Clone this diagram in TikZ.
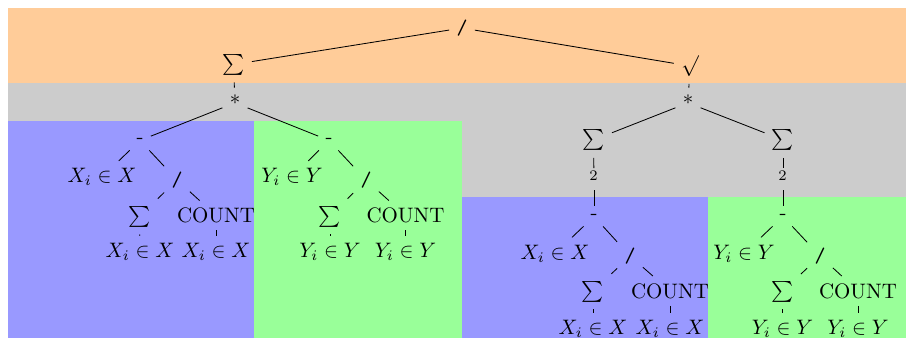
\documentclass[tikz,border=0pt]{standalone}
\definecolor{bandorange}{RGB}{255,204,153}
\definecolor{bandgray}{RGB}{204,204,204}
\definecolor{setx}{RGB}{153,153,255}
\definecolor{sety}{RGB}{153,255,153}
\begin{document}
\begin{tikzpicture}[x=0.478pt,y=-0.478pt,
  op/.style={font=\ttfamily},
  opb/.style={anchor=base},
  sq/.style={anchor=base,inner sep=1pt},
  edge/.style={line width=0.4pt}]
\useasboundingbox (0,0) rectangle (906,338);
% coloured bands
\fill[bandorange] (8,8) rectangle (906,83);
\fill[bandgray] (8,83) rectangle (906,197);
\fill[setx] (8,121) rectangle (254,338);
\fill[sety] (254,121) rectangle (462,338);
\fill[setx] (462,197) rectangle (708,338);
\fill[sety] (708,197) rectangle (906,338);

% top levels
\node[op] (div) at (462,28) {/};
\node (sumA) at (233.5,64.5) {$\sum$};
\node (sqrt) at (690,66) {$\surd$};
\node[anchor=base] (mulA) at (235,110.7) {*};
\node[anchor=base] (mulB) at (688,110.7) {*};

% numerator, X part
\node[opb] (subA) at (140,143) {-};
\node (xA) at (102,177) {$X_i\in X$};
\node[op] (divA) at (177,180) {/};
\node (sumAX) at (139.5,216.5) {$\sum$};
\node (cntAX) at (216,215.5) {COUNT};
\node (xA1) at (140,252) {$X_i\in X$};
\node (xA2) at (216,252) {$X_i\in X$};

% numerator, Y part
\node[opb] (subB) at (329,143) {-};
\node (yB) at (292,177) {$Y_i\in Y$};
\node[op] (divB) at (366,180) {/};
\node (sumBY) at (330,216.5) {$\sum$};
\node (cntBY) at (405.5,215.5) {COUNT};
\node (yB1) at (330,252) {$Y_i\in Y$};
\node (yB2) at (405.5,252) {$Y_i\in Y$};

% denominator, X part
\node (sumC) at (593.5,140) {$\sum$};
\node[sq] (sqC) at (594,187.6) {$^2$};
\node[opb] (subC) at (594,219) {-};
\node (xC) at (555,253.5) {$X_i\in X$};
\node[op] (divC) at (630,256) {/};
\node (sumCX) at (593,291.5) {$\sum$};
\node (cntCX) at (670,291) {COUNT};
\node (xC1) at (593,329) {$X_i\in X$};
\node (xC2) at (670,329) {$X_i\in X$};

% denominator, Y part
\node (sumD) at (783,140) {$\sum$};
\node[sq] (sqD) at (783,187.6) {$^2$};
\node[opb] (subD) at (783,219) {-};
\node (yD) at (744,253.5) {$Y_i\in Y$};
\node[op] (divD) at (820,256) {/};
\node (sumDY) at (782.5,291.5) {$\sum$};
\node (cntDY) at (858,291) {COUNT};
\node (yD1) at (782.5,329) {$Y_i\in Y$};
\node (yD2) at (858,329) {$Y_i\in Y$};

% edges
\draw[edge] (div) -- (sumA);
\draw[edge] (div) -- (sqrt);
\draw[edge] (sumA) -- (mulA);
\draw[edge] (sqrt) -- (mulB);
\draw[edge] (mulA) -- (subA);
\draw[edge] (mulA) -- (subB);
\draw[edge] (mulB) -- (sumC);
\draw[edge] (mulB) -- (sumD);

\draw[edge] (subA) -- (xA);
\draw[edge] (subA) -- (divA);
\draw[edge] (divA) -- (sumAX);
\draw[edge] (divA) -- (cntAX);
\draw[edge] (sumAX) -- (xA1);
\draw[edge] (cntAX) -- (xA2);

\draw[edge] (subB) -- (yB);
\draw[edge] (subB) -- (divB);
\draw[edge] (divB) -- (sumBY);
\draw[edge] (divB) -- (cntBY);
\draw[edge] (sumBY) -- (yB1);
\draw[edge] (cntBY) -- (yB2);

\draw[edge] (sumC) -- (sqC);
\draw[edge] (sqC) -- (subC);
\draw[edge] (subC) -- (xC);
\draw[edge] (subC) -- (divC);
\draw[edge] (divC) -- (sumCX);
\draw[edge] (divC) -- (cntCX);
\draw[edge] (sumCX) -- (xC1);
\draw[edge] (cntCX) -- (xC2);

\draw[edge] (sumD) -- (sqD);
\draw[edge] (sqD) -- (subD);
\draw[edge] (subD) -- (yD);
\draw[edge] (subD) -- (divD);
\draw[edge] (divD) -- (sumDY);
\draw[edge] (divD) -- (cntDY);
\draw[edge] (sumDY) -- (yD1);
\draw[edge] (cntDY) -- (yD2);
\end{tikzpicture}
\end{document}
